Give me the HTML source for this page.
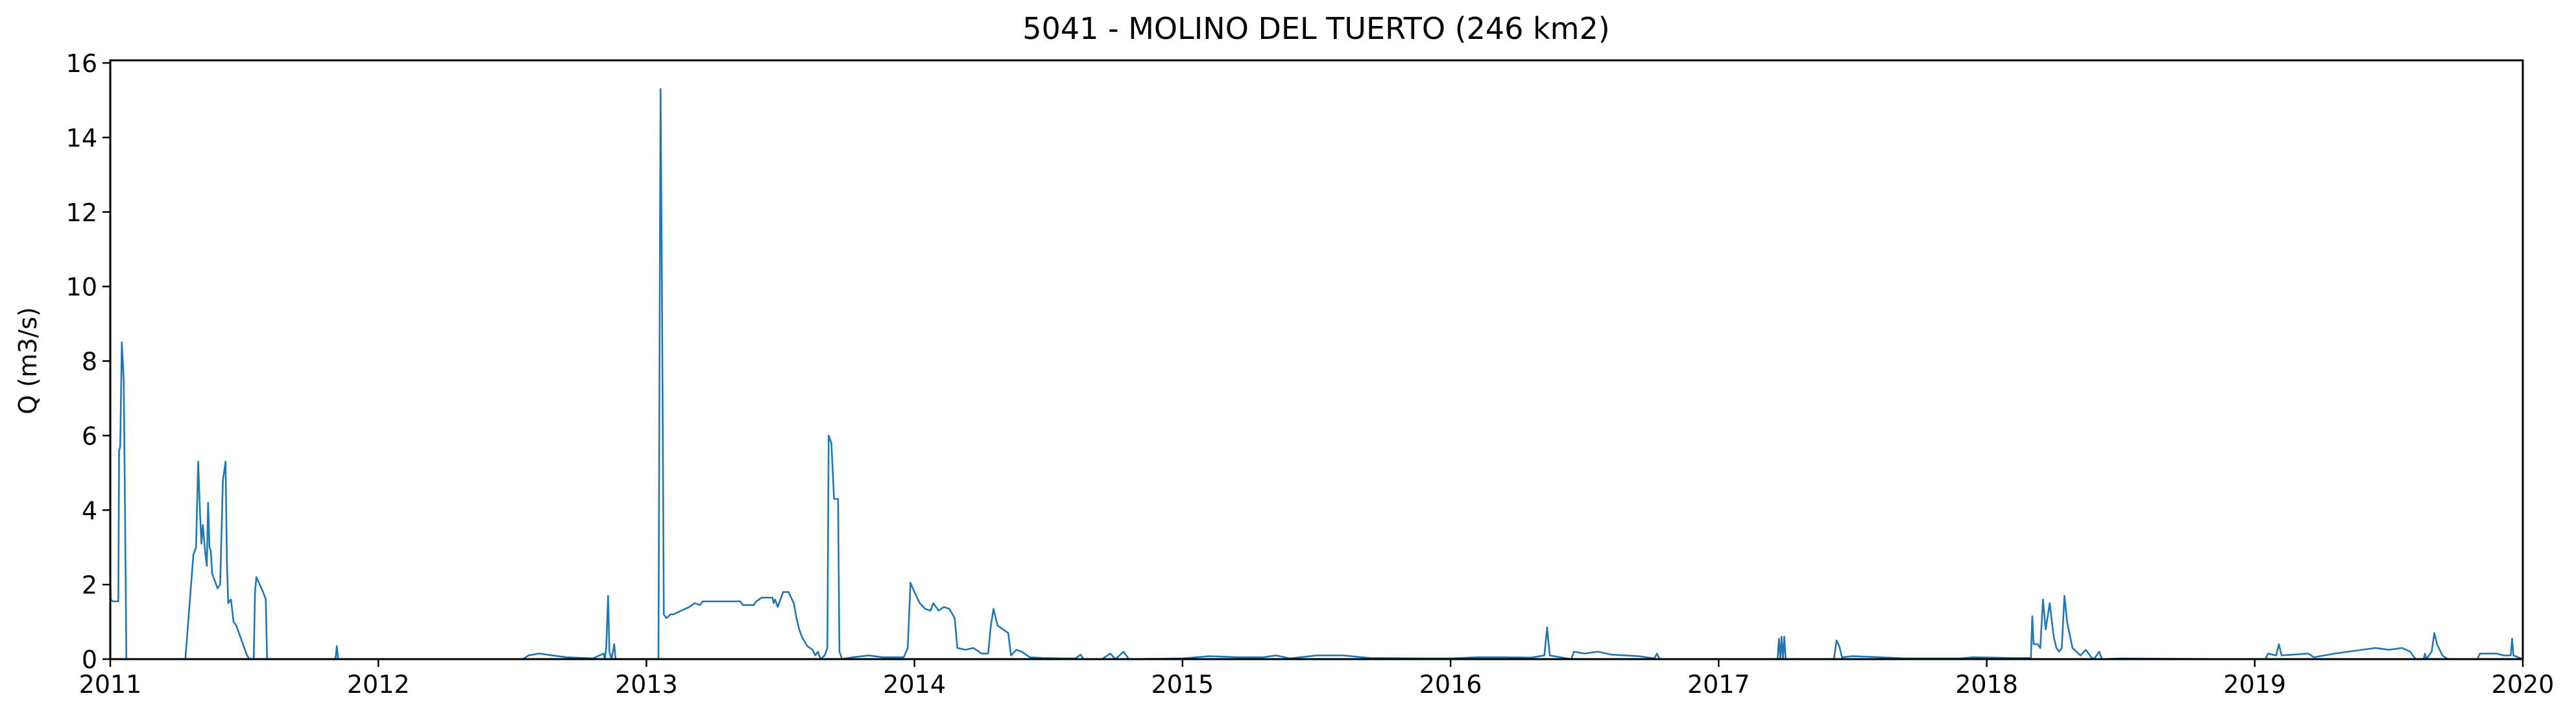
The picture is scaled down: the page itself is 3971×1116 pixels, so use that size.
<!DOCTYPE html>
<html><head><meta charset="utf-8"><style>
html,body{margin:0;padding:0;background:#fff;}
svg{display:block;font-family:"DejaVu Sans","Liberation Sans",sans-serif;}
</style></head>
<body>
<svg id="chart" width="3971" height="1116" viewBox="0 0 3971 1116" xmlns="http://www.w3.org/2000/svg">
<rect width="3971" height="1116" fill="#fff"/>
<text x="2029" y="60" font-size="46" text-anchor="middle">5041 - MOLINO DEL TUERTO (246 km2)</text>
<text transform="translate(56,556) rotate(-90)" font-size="38" text-anchor="middle">Q (m3/s)</text>
<g id="ticks"></g>
<path id="line" fill="none" stroke="#1f77b4" stroke-width="2.6" stroke-linejoin="round"/>
<rect x="170" y="93" width="3719" height="923" fill="none" stroke="#000" stroke-width="3"/>
</svg>
<script>
const xTickLabels = ["2011","2012","2013","2014","2015","2016","2017","2018","2019","2020"];
const yTickLabels = ["0","2","4","6","8","10","12","14","16"];
const years = [
2011.0,2011.002,2011.01,2011.03,2011.033,2011.037,2011.043,2011.05,2011.055,2011.06,
2011.28,2011.31,2011.32,2011.328,2011.335,2011.34,2011.345,2011.355,2011.36,2011.365,
2011.37,2011.375,2011.38,2011.39,2011.40,2011.41,2011.42,2011.43,2011.435,2011.44,
2011.45,2011.46,2011.47,2011.49,2011.51,2011.52,2011.535,2011.54,2011.545,2011.57,
2011.58,2011.585,2011.84,2011.845,2011.85,2012.54,2012.56,2012.60,2012.65,2012.70,
2012.80,2012.84,2012.845,2012.85,2012.857,2012.862,2012.87,2012.88,2012.885,2013.045,
2013.05,2013.053,2013.058,2013.065,2013.075,2013.09,2013.10,2013.16,2013.18,2013.20,
2013.21,2013.23,2013.35,2013.36,2013.40,2013.41,2013.43,2013.47,2013.475,2013.48,
2013.49,2013.50,2013.51,2013.53,2013.55,2013.56,2013.57,2013.58,2013.60,2013.62,
2013.63,2013.64,2013.65,2013.665,2013.675,2013.68,2013.69,2013.70,2013.715,2013.72,
2013.73,2013.77,2013.83,2013.88,2013.96,2013.975,2013.985,2014.0,2014.02,2014.04,
2014.06,2014.07,2014.09,2014.11,2014.13,2014.15,2014.16,2014.19,2014.22,2014.25,
2014.275,2014.285,2014.295,2014.31,2014.33,2014.35,2014.36,2014.38,2014.40,2014.43,
2014.48,2014.55,2014.60,2014.62,2014.63,2014.70,2014.73,2014.75,2014.78,2014.80,
2015.0,2015.1,2015.2,2015.3,2015.35,2015.4,2015.5,2015.6,2015.7,2015.9,
2016.0,2016.1,2016.2,2016.3,2016.35,2016.36,2016.37,2016.45,2016.46,2016.5,
2016.55,2016.6,2016.7,2016.76,2016.77,2016.78,2017.22,2017.225,2017.23,2017.235,
2017.24,2017.245,2017.25,2017.43,2017.44,2017.45,2017.46,2017.5,2017.6,2017.7,
2017.9,2017.95,2018.1,2018.165,2018.17,2018.175,2018.19,2018.2,2018.21,2018.22,
2018.235,2018.25,2018.26,2018.27,2018.28,2018.29,2018.30,2018.32,2018.35,2018.37,
2018.39,2018.4,2018.42,2018.43,2018.5,2018.9,2019.04,2019.05,2019.08,2019.09,
2019.1,2019.2,2019.22,2019.3,2019.35,2019.4,2019.45,2019.5,2019.55,2019.58,
2019.6,2019.63,2019.635,2019.64,2019.66,2019.67,2019.68,2019.70,2019.72,2019.83,
2019.84,2019.9,2019.93,2019.955,2019.96,2019.965,2020.0];
const values = [
2.3,1.6,1.55,1.55,5.6,5.7,8.5,7.5,4,0,
0,2.8,3,5.3,3.9,3.1,3.6,2.8,2.5,4.2,
3.0,2.9,2.3,2.1,1.9,2.0,4.8,5.3,2.6,1.5,
1.6,1.0,0.9,0.5,0.1,0,0,1.8,2.2,1.8,
1.6,0,0,0.35,0,0,0.1,0.15,0.1,0.05,
0.02,0.15,0,0.3,1.7,0.2,0,0.4,0,0,
10,15.3,10,1.2,1.1,1.2,1.2,1.4,1.5,1.45,
1.55,1.55,1.55,1.45,1.45,1.55,1.65,1.65,1.5,1.6,
1.4,1.6,1.8,1.8,1.5,1.1,0.8,0.6,0.35,0.25,
0.1,0.2,0,0.1,0.3,6.0,5.8,4.3,4.3,0.2,
0,0.05,0.1,0.05,0.05,0.3,2.05,1.8,1.5,1.35,
1.3,1.5,1.3,1.4,1.35,1.1,0.3,0.25,0.3,0.15,
0.15,0.9,1.35,0.9,0.8,0.7,0.1,0.25,0.2,0.05,
0.03,0.02,0.02,0.12,0,0,0.15,0,0.2,0,
0.02,0.08,0.05,0.05,0.1,0.02,0.1,0.1,0.03,0.02,
0.02,0.05,0.05,0.04,0.1,0.85,0.1,0,0.2,0.15,
0.2,0.12,0.08,0.02,0.15,0,0,0.55,0,0.6,
0,0.6,0,0,0.5,0.35,0.05,0.08,0.05,0.02,
0.02,0.05,0.03,0.03,1.15,0.4,0.4,0.3,1.6,0.8,
1.5,0.6,0.3,0.2,0.3,1.7,1.0,0.3,0.1,0.25,
0.05,0,0.2,0,0.02,0,0,0.15,0.1,0.4,
0.1,0.15,0.05,0.15,0.2,0.25,0.3,0.25,0.3,0.2,
0,0,0.15,0,0.2,0.7,0.4,0.1,0,0,
0.15,0.15,0.1,0.1,0.55,0.1,0];

const X0=170, X1=3889, Y0=1016, YT=93;
const xMin=2011, xMax=2020, yMin=0, yMax=16.07;
const sx = v => X0 + (v - xMin) / (xMax - xMin) * (X1 - X0);
const sy = v => Y0 - (v - yMin) / (yMax - yMin) * (Y0 - YT);
const NS = "http://www.w3.org/2000/svg";
const g = document.getElementById('ticks');
xTickLabels.forEach(lbl => {
  const x = sx(parseFloat(lbl));
  const t = document.createElementNS(NS,'line');
  t.setAttribute('x1',x);t.setAttribute('x2',x);t.setAttribute('y1',Y0);t.setAttribute('y2',Y0+12);
  t.setAttribute('stroke','#000');t.setAttribute('stroke-width','2.5');
  
  
  g.appendChild(t);
  const tx = document.createElementNS(NS,'text');
  tx.setAttribute('x',x);tx.setAttribute('y',Y0+52);tx.setAttribute('font-size','38');tx.setAttribute('text-anchor','middle');
  tx.textContent = lbl;
  
  
  g.appendChild(tx);
});
yTickLabels.forEach(lbl => {
  const y = sy(parseFloat(lbl));
  const t = document.createElementNS(NS,'line');
  t.setAttribute('x1',X0-12);t.setAttribute('x2',X0);t.setAttribute('y1',y);t.setAttribute('y2',y);
  t.setAttribute('stroke','#000');t.setAttribute('stroke-width','2.5');
  
  
  g.appendChild(t);
  const tx = document.createElementNS(NS,'text');
  tx.setAttribute('x',X0-20);tx.setAttribute('y',y+14);tx.setAttribute('font-size','38');tx.setAttribute('text-anchor','end');
  tx.textContent = lbl;
  
  
  g.appendChild(tx);
});
let d = '';
years.forEach((yr,i) => { d += (i ? 'L' : 'M') + sx(yr).toFixed(1) + ',' + sy(values[i]).toFixed(1); });
document.getElementById('line').setAttribute('d', d);
</script>
</body></html>
